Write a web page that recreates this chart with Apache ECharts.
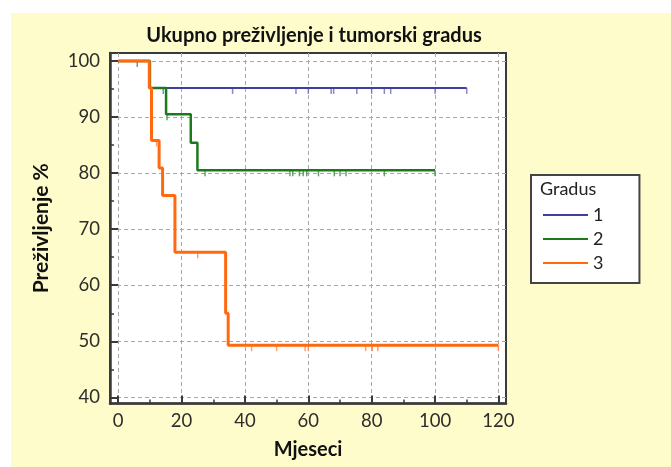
<!DOCTYPE html>
<html><head><meta charset="utf-8">
<script src="https://cdn.jsdelivr.net/npm/echarts@6/dist/echarts.min.js"></script>
<style>
html,body{margin:0;padding:0;background:#fff;}
#wrap{position:relative;width:671px;height:467px;overflow:hidden;}
#bg{position:absolute;left:11px;top:13px;right:0;bottom:0;background:#FFFCCB;}
#chart{position:absolute;left:0;top:0;width:671px;height:467px;}
</style></head><body>
<div id="wrap"><div id="bg"></div><div id="chart"></div></div>
<script>
// ---- data ----
const seriesNames = ['1', '2', '3'];
const grade1Times = [0, 10, 110];
const grade1Surv = [100, 95.2, 95.2];
const grade1Censored = [14.2, 36.1, 56.1, 60, 67.2, 68, 75.3, 80, 84, 86, 100, 110];
const grade2Times = [0, 10, 15.1, 22.9, 25, 100];
const grade2Surv = [100, 95.2, 90.5, 85.4, 80.5, 80.5];
const grade2Censored = [6, 15.4, 27.4, 54.2, 55.1, 57.2, 58.4, 59.5, 63.2, 68.2, 70, 71.9, 84, 100];
const grade3Times = [0, 9.8, 10.5, 12.9, 14.0, 17.9, 33.9, 34.7, 120];
const grade3Surv = [100, 95.2, 85.8, 80.9, 76.0, 65.9, 55.0, 49.3, 49.3];
const grade3Censored = [12.1, 25.1, 42.1, 50, 59, 60, 78.1, 80.2, 81.9, 120];
const xTickLabels = [0, 20, 40, 60, 80, 100, 120];
const yTickLabels = [40, 50, 60, 70, 80, 90, 100];
const xMinorTicks = [10, 30, 50, 70, 90, 110];
const yMinorTicks = [45, 55, 65, 75, 85, 95];

// ---- styling ----
const colors = ['#3f3fa3', '#1c7a1c', '#ff6a10'];
const censorColors = ['#6a6ab8', '#3f913f', '#ff8c45'];
const lineWidths = [2, 2.5, 3];
const FONT = 'Lato, "Open Sans", sans-serif';
const AXC = '#3a3a3a';

function survAt(times, surv, t) {
  let v = surv[0];
  for (let i = 0; i < times.length; i++) { if (times[i] <= t) v = surv[i]; }
  return v;
}
const groups = [
  [grade1Times, grade1Surv, grade1Censored],
  [grade2Times, grade2Surv, grade2Censored],
  [grade3Times, grade3Surv, grade3Censored]
];
const series = [];
groups.forEach((g, i) => {
  series.push({
    name: seriesNames[i], type: 'line', step: 'end', showSymbol: false,
    xAxisIndex: 0, yAxisIndex: 0,
    data: g[0].map((t, k) => [t, g[1][k]]),
    color: colors[i],
    lineStyle: { color: colors[i], width: lineWidths[i] },
    z: 3 + i, silent: true, animation: false
  });
});
groups.forEach((g, i) => {
  series.push({
    name: 'c' + seriesNames[i], type: 'scatter', xAxisIndex: 0, yAxisIndex: 0,
    data: g[2].map(t => [t, survAt(g[0], g[1], t)]),
    symbol: 'rect', symbolSize: [1.5, 6], symbolOffset: [0, 3],
    itemStyle: { color: censorColors[i] },
    z: 2, silent: true, animation: false
  });
});

const chart = echarts.init(document.getElementById('chart'), null, { renderer: 'canvas' });
chart.setOption({
  backgroundColor: 'transparent',
  animation: false,
  title: {
    text: 'Ukupno preživljenje i tumorski gradus',
    left: 309, top: 21, textAlign: 'center',
    textStyle: { fontFamily: FONT, fontSize: 20, fontWeight: 'bold', color: '#111' }
  },
  graphic: [{
    type: 'text', left: 540, top: 180, z: 100, zlevel: 1,
    style: { text: 'Gradus', font: '18px Lato, sans-serif', fill: '#222' }
  }],
  legend: {
    data: seriesNames, orient: 'vertical', left: 531, top: 175,
    padding: [31, 36, 11, 12],
    backgroundColor: '#fff', borderColor: '#444', borderWidth: 2,
    icon: 'rect', itemWidth: 45, itemHeight: 2, itemGap: 6,
    textStyle: { fontFamily: FONT, fontSize: 18, lineHeight: 18, color: '#222' },
    selectedMode: false
  },
  grid: {
    left: 110, top: 53, width: 396, height: 350.5,
    show: true, backgroundColor: '#fff', borderColor: AXC, borderWidth: 2
  },
  xAxis: [{
    type: 'value', min: -2.6, max: 122.4, position: 'bottom',
    axisLine: { show: true, onZero: false, lineStyle: { color: AXC, width: 2.5 } },
    axisTick: { show: true, inside: true, length: 8, customValues: xTickLabels, lineStyle: { color: AXC, width: 2 } },
    axisLabel: { customValues: xTickLabels, margin: 8, fontFamily: FONT, fontSize: 18.5, color: '#2d2d2d' },
    splitLine: { show: true, lineStyle: { type: [4, 3], color: '#a8a8a8', width: 1 } },
    name: 'Mjeseci', nameLocation: 'middle', nameGap: 36,
    nameTextStyle: { fontFamily: FONT, fontSize: 20, fontWeight: 'bold', color: '#111' }
  }, {
    type: 'value', min: -2.6, max: 122.4, position: 'bottom', gridIndex: 0,
    axisLine: { show: false, onZero: false },
    axisTick: { show: true, inside: true, length: 4, customValues: xMinorTicks, lineStyle: { color: AXC, width: 1.5 } },
    axisLabel: { show: false }, splitLine: { show: false }
  }],
  yAxis: [{
    type: 'value', min: 38.9, max: 101.43, position: 'left',
    axisLine: { show: true, onZero: false, lineStyle: { color: AXC, width: 2.5 } },
    axisTick: { show: true, inside: true, length: 8, customValues: yTickLabels, lineStyle: { color: AXC, width: 2 } },
    axisLabel: { customValues: yTickLabels, margin: 10, fontFamily: FONT, fontSize: 18.5, color: '#2d2d2d' },
    splitLine: { show: true, lineStyle: { type: [4, 3], color: '#a8a8a8', width: 1 } },
    name: 'Preživljenje %', nameLocation: 'middle', nameGap: 58,
    nameTextStyle: { fontFamily: FONT, fontSize: 21, fontWeight: 'bold', color: '#111' }
  }, {
    type: 'value', min: 38.9, max: 101.43, position: 'left', gridIndex: 0,
    axisLine: { show: false, onZero: false },
    axisTick: { show: true, inside: true, length: 4, customValues: yMinorTicks, lineStyle: { color: AXC, width: 1.5 } },
    axisLabel: { show: false }, splitLine: { show: false }
  }],
  series: series
});
</script>
</body></html>
